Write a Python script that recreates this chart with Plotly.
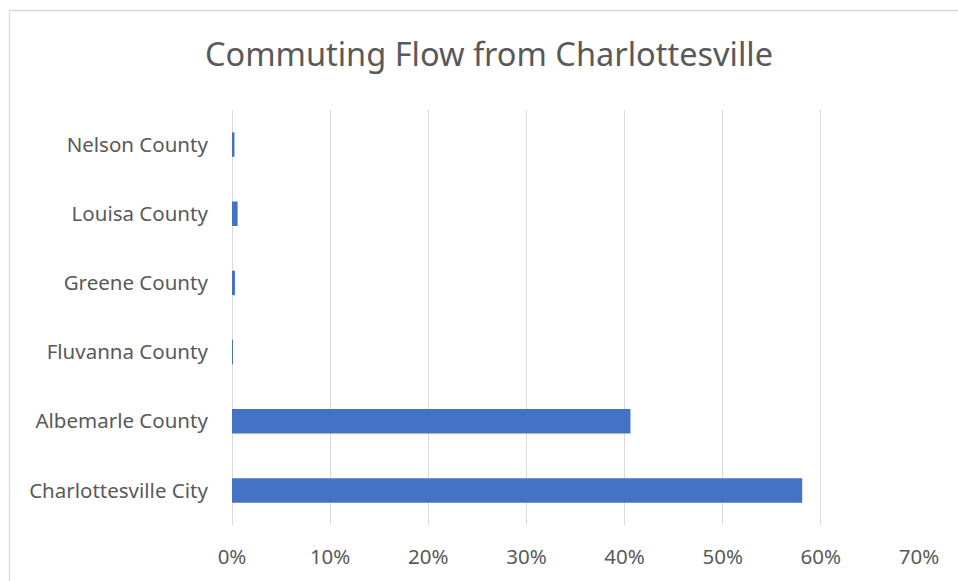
import plotly.graph_objects as go

categories = ["Charlottesville City", "Albemarle County", "Fluvanna County",
              "Greene County", "Louisa County", "Nelson County"]
shares = [0.581, 0.406, 0.001, 0.003, 0.0057, 0.0025]
tick_vals = [0, 0.1, 0.2, 0.3, 0.4, 0.5, 0.6, 0.7]
tick_text = ["0%", "10%", "20%", "30%", "40%", "50%", "60%", "70%"]

W, H = 958, 581
L, R, T, B = 232, 39, 110, 56
pw, ph = W - L - R, H - T - B

fig = go.Figure(go.Bar(
    x=shares, y=categories, orientation="h",
    marker=dict(color="#4472C4", line=dict(width=0)),
    width=0.354,
))

font_family = "Noto Sans, Open Sans, sans-serif"
fig.update_layout(
    width=W, height=H,
    margin=dict(l=L, r=R, t=T, b=B, autoexpand=False),
    paper_bgcolor="white", plot_bgcolor="white",
    showlegend=False,
    title=dict(text="Commuting Flow from Charlottesville",
               font=dict(family=font_family, size=32.5, color="#595959"),
               x=489 / W, xanchor="center", y=1 - 55 / H, yanchor="middle"),
    xaxis=dict(range=[0, 0.7], tickvals=tick_vals, ticktext=tick_text,
               showgrid=True, gridcolor="#d9d9d9", gridwidth=1.3,
               zeroline=True, zerolinecolor="#d9d9d9", zerolinewidth=1.3,
               ticks="outside", ticklen=13, tickcolor="rgba(0,0,0,0)",
               tickfont=dict(family=font_family, size=20.5, color="#595959"),
               showline=False, fixedrange=True, automargin=False),
    yaxis=dict(categoryorder="array", categoryarray=categories,
               range=[-0.5, 5.5], showgrid=False, zeroline=False,
               ticks="outside", ticklen=19, tickcolor="rgba(0,0,0,0)",
               tickfont=dict(family=font_family, size=20.5, color="#595959"),
               showline=False, fixedrange=True, automargin=False),
    shapes=[dict(type="rect", xref="paper", yref="paper",
                 x0=(9.5 - L) / pw, x1=(W + 20 - L) / pw,
                 y0=-(B + 20) / ph, y1=1 + (T - 10.5) / ph,
                 line=dict(color="#d9d9d9", width=1.3), layer="below")],
)

fig.write_html("out.html")
